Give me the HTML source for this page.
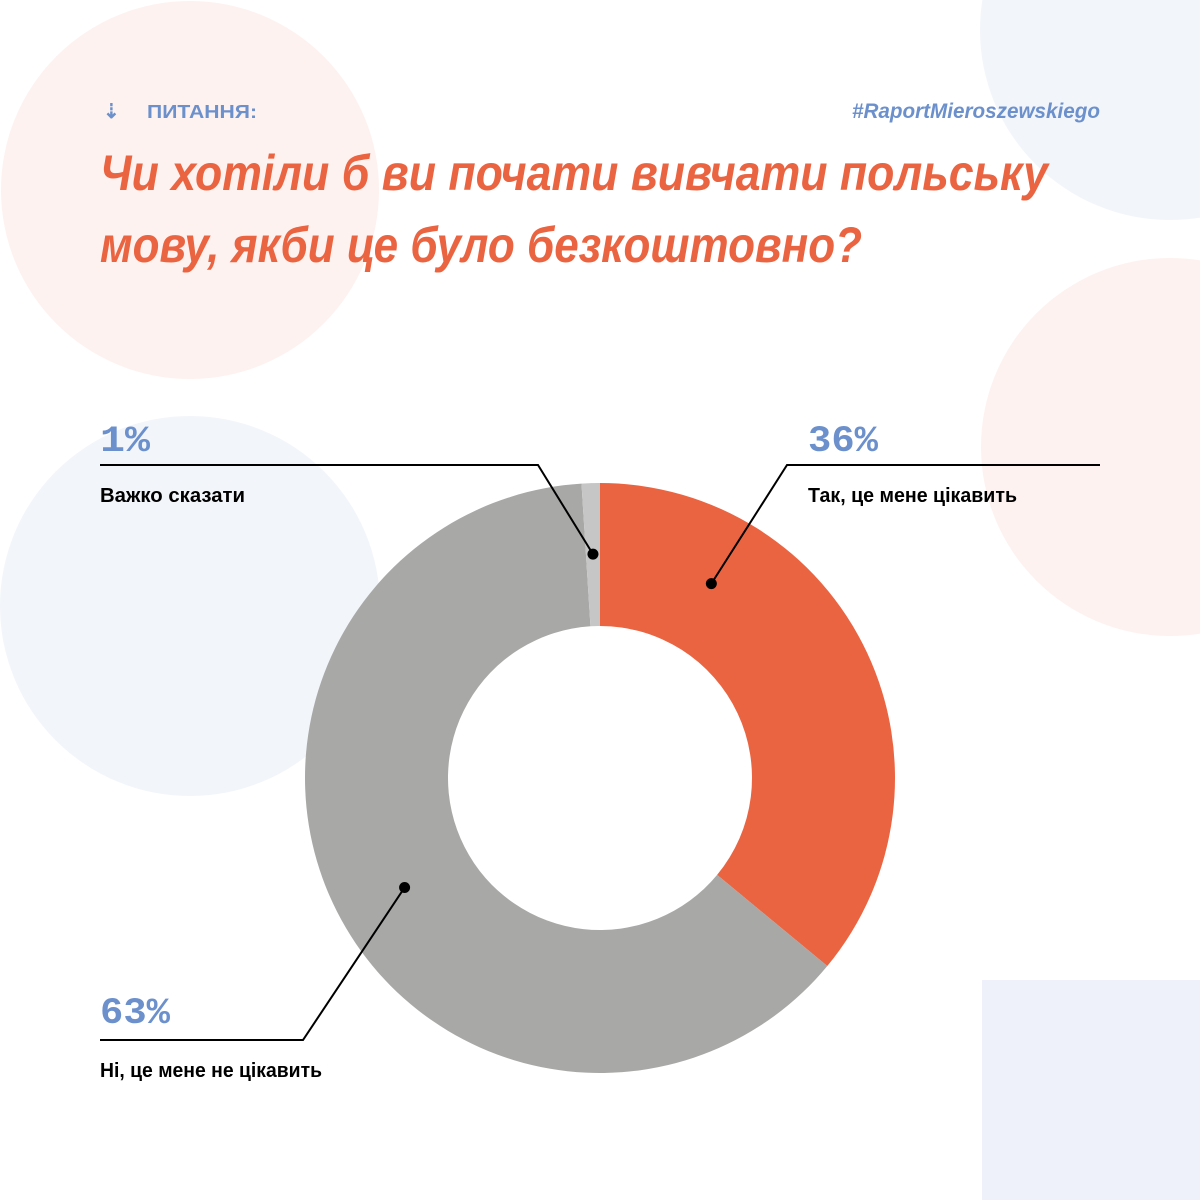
<!DOCTYPE html>
<html><head><meta charset="utf-8"><style>
html,body{margin:0;padding:0;background:#fff;}
svg{display:block;}
</style></head><body>
<svg id="chart" width="1200" height="1200" viewBox="0 0 1200 1200" xmlns="http://www.w3.org/2000/svg" font-family="'Liberation Sans', sans-serif">
<circle cx="190" cy="190" r="189" fill="#fdf2ef"/>
<circle cx="190" cy="606" r="190" fill="#f2f5fa"/>
<circle cx="1170" cy="30" r="190" fill="#f2f5fa"/>
<circle cx="1170" cy="447" r="189" fill="#fdf2ef"/>
<rect x="982" y="980" width="218" height="220" fill="#eef1f9"/>

<text x="103" y="118" font-size="20" font-weight="bold" fill="#6b90cc">⇣</text>
<text x="147" y="118" font-size="18" font-weight="bold" fill="#6b90cc" textLength="110" lengthAdjust="spacingAndGlyphs">ПИТАННЯ:</text>
<text x="852" y="118" font-size="21" font-weight="bold" font-style="italic" fill="#6b90cc" textLength="248" lengthAdjust="spacingAndGlyphs">#RaportMieroszewskiego</text>
<text x="100" y="190" font-size="50" font-weight="bold" font-style="italic" fill="#eb6441" textLength="948" lengthAdjust="spacingAndGlyphs">Чи хотіли б ви почати вивчати польську</text>
<text x="100" y="262" font-size="50" font-weight="bold" font-style="italic" fill="#eb6441" textLength="762" lengthAdjust="spacingAndGlyphs">мову, якби це було безкоштовно?</text>

<g id="slices"></g>
<g id="labels"></g>
</svg>
<script>
const categories = ["Так, це мене цікавить", "Ні, це мене не цікавить", "Важко сказати"];
const values = [36, 63, 1];
const valueLabels = ["36%", "63%", "1%"];
const colors = ["#eb6441", "#a8a8a7", "#c6c6c6"];

const NS = "http://www.w3.org/2000/svg";
const cx = 600, cy = 778, R = 295, r = 152;
const total = values.reduce((a, b) => a + b, 0);
function pt(frac, rad) {
  const a = frac * 2 * Math.PI - Math.PI / 2;
  return [cx + rad * Math.cos(a), cy + rad * Math.sin(a)];
}
const slicesG = document.getElementById('slices');
const labelsG = document.getElementById('labels');
const layout = [
  {tx: 808, ly: 465, lend: 1100, elbow: 787, py: 451, pos: 0.23, cw: 209, pw: 70},
  {tx: 100, ly: 1040, lend: 100, elbow: 303, py: 1023, pos: 0.49, cw: 222, pw: 70},
  {tx: 100, ly: 465, lend: 100, elbow: 538, py: 451, pos: 0.5, cw: 145, pw: 50}
];
const dotR = 224;
let acc = 0;
values.forEach((v, i) => {
  const f0 = acc / total, f1 = (acc + v) / total;
  acc += v;
  const large = (f1 - f0) > 0.5 ? 1 : 0;
  const [x0, y0] = pt(f0, R), [x1, y1] = pt(f1, R);
  const [x2, y2] = pt(f1, r), [x3, y3] = pt(f0, r);
  const p = document.createElementNS(NS, 'path');
  p.setAttribute('d', `M${x0},${y0} A${R},${R} 0 ${large} 1 ${x1},${y1} L${x2},${y2} A${r},${r} 0 ${large} 0 ${x3},${y3} Z`);
  p.setAttribute('fill', colors[i]);
  
  
  slicesG.appendChild(p);

  const L = layout[i];
  const [dx, dy] = pt(f0 + (f1 - f0) * L.pos, dotR);
  const line = document.createElementNS(NS, 'polyline');
  line.setAttribute('points', `${dx},${dy} ${L.elbow},${L.ly} ${L.lend},${L.ly}`);
  line.setAttribute('fill', 'none');
  line.setAttribute('stroke', '#000');
  line.setAttribute('stroke-width', '2');
  
  
  labelsG.appendChild(line);
  const dot = document.createElementNS(NS, 'circle');
  dot.setAttribute('cx', dx); dot.setAttribute('cy', dy); dot.setAttribute('r', 5.5);
  dot.setAttribute('fill', '#000');
  
  
  labelsG.appendChild(dot);
  const pct = document.createElementNS(NS, 'text');
  pct.setAttribute('x', L.tx); pct.setAttribute('y', L.py);
  pct.setAttribute('font-size', '37');
  pct.setAttribute('font-weight', 'bold');
  pct.setAttribute('font-family', "'Liberation Mono', monospace");
  pct.setAttribute('fill', '#6b90cc');
  pct.setAttribute('textLength', L.pw);
  pct.setAttribute('lengthAdjust', 'spacingAndGlyphs');
  pct.textContent = valueLabels[i];
  
  
  labelsG.appendChild(pct);
  const cat = document.createElementNS(NS, 'text');
  cat.setAttribute('x', L.tx); cat.setAttribute('y', L.ly + 37);
  cat.setAttribute('font-size', '20');
  cat.setAttribute('font-weight', 'bold');
  cat.setAttribute('fill', '#000');
  cat.setAttribute('textLength', L.cw);
  cat.setAttribute('lengthAdjust', 'spacingAndGlyphs');
  cat.textContent = categories[i];
  
  
  labelsG.appendChild(cat);
});
</script>
</body></html>
